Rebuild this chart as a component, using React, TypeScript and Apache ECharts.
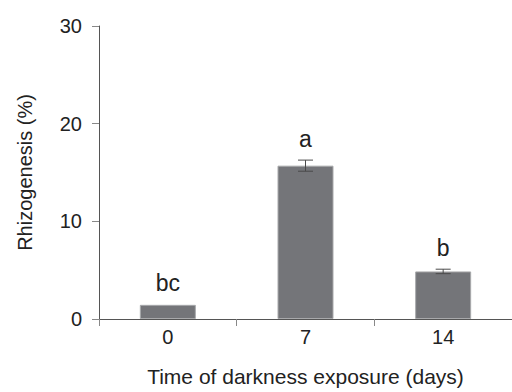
import React, { useEffect, useRef } from "react";
import * as echarts from "echarts";

const categories = ["0", "7", "14"];
const values = [1.45, 15.7, 4.87];
const errors = [0.05, 0.57, 0.23];
const letters = ["bc", "a", "b"];
const yTicks = [0, 10, 20, 30];

const FONT = "'Liberation Sans', Arial, Helvetica, sans-serif";

export default function App() {
  const ref = useRef<HTMLDivElement>(null);
  useEffect(() => {
    const chart = echarts.init(ref.current!, undefined, { renderer: "svg" });
    const errData = values.map((v, i) => [i, v, errors[i]]);
    chart.setOption({
      animation: false,
      backgroundColor: "#ffffff",
      textStyle: { fontFamily: FONT },
      grid: { left: 99, right: -2, top: 26, bottom: 71 },
      xAxis: {
        type: "category",
        data: categories,
        name: "Time of darkness exposure (days)",
        nameLocation: "middle",
        nameGap: 47,
        nameTextStyle: { fontSize: 21, color: "#222", fontFamily: FONT },
        axisLine: { lineStyle: { color: "#555", width: 1 } },
        axisTick: { show: true, length: 7, lineStyle: { color: "#888" } },
        axisLabel: { fontSize: 20, color: "#222", margin: 8, fontFamily: FONT },
      },
      yAxis: {
        type: "value",
        min: yTicks[0],
        max: yTicks[yTicks.length - 1],
        interval: 10,
        name: "Rhizogenesis (%)",
        nameLocation: "middle",
        nameGap: 64,
        nameTextStyle: { fontSize: 20, color: "#222", fontFamily: FONT },
        axisLine: { show: true, lineStyle: { color: "#555", width: 1 } },
        axisTick: { show: true, length: 7, lineStyle: { color: "#888" } },
        axisLabel: { fontSize: 20, color: "#222", margin: 17, fontFamily: FONT },
        splitLine: { show: false },
      },
      series: [
        {
          type: "bar",
          data: values,
          barWidth: 56,
          itemStyle: { color: "#747579", borderColor: "#a8a9ab", borderWidth: 1 },
        },
        {
          type: "custom",
          data: errData,
          z: 10,
          renderItem: (params: any, api: any) => {
            const x = api.value(0);
            const v = api.value(1);
            const e = api.value(2);
            const top = api.coord([x, v + e]);
            const bot = api.coord([x, v - e]);
            const hw = 7.5;
            const children: any[] = [];
            if (e > 0.1) {
              const st = { stroke: "#4a4a4a", lineWidth: 1 };
              children.push(
                { type: "line", shape: { x1: top[0], y1: top[1], x2: bot[0], y2: bot[1] }, style: st },
                { type: "line", shape: { x1: top[0] - hw, y1: top[1], x2: top[0] + hw, y2: top[1] }, style: st },
                { type: "line", shape: { x1: bot[0] - hw, y1: bot[1], x2: bot[0] + hw, y2: bot[1] }, style: st }
              );
            }
            children.push({
              type: "text",
              x: top[0],
              y: top[1] - 21,
              style: {
                text: letters[params.dataIndex],
                fontSize: 23,
                fontFamily: FONT,
                fill: "#222",
                align: "center",
                verticalAlign: "middle",
              },
            });
            return { type: "group", children };
          },
        },
      ],
    });
    return () => chart.dispose();
  }, []);
  return (
    <div
      ref={ref}
      style={{ position: "fixed", left: 0, top: 0, width: 512, height: 392 }}
    />
  );
}
